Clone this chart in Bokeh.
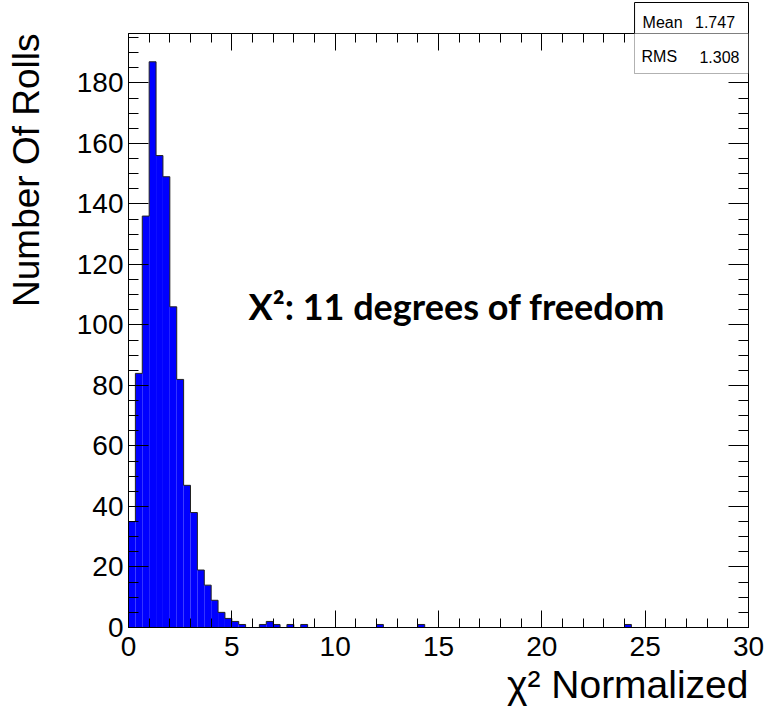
from bokeh.plotting import figure
from bokeh.models import Range1d, LinearAxis, SingleIntervalTicker, Label, BoxAnnotation, Title
from bokeh.embed import file_html
from bokeh.resources import INLINE

# ---- data ----
x_start = 0.0
x_end = 30.0
bin_width = 1.0 / 3.0
counts = [35, 84, 136, 187, 156, 149, 106, 82, 47, 38,
          19, 14, 9, 5, 3, 2, 1, 0, 0, 1,
          2, 1, 0, 1, 0, 1, 0, 0, 0, 0,
          0, 0, 0, 0, 0, 0, 1, 0, 0, 0,
          0, 0, 1, 0, 0, 0, 0, 0, 0, 0,
          0, 0, 0, 0, 0, 0, 0, 0, 0, 0,
          0, 0, 0, 0, 0, 0, 0, 0, 0, 0,
          0, 0, 1, 0, 0, 0, 0, 0, 0, 0,
          0, 0, 0, 0, 0, 0, 0, 0, 0, 0]
stats_names = ["Mean", "RMS"]
stats_values = ["1.747", "1.308"]
x_title = "\u03c7\u00b2 Normalized"
y_title = "Number Of Rolls"
note_text = "X\u00b2: 11 degrees of freedom"
x_major = 5
x_minor = 5
y_major = 20
y_minor = 4

edges = [x_start + i * bin_width for i in range(len(counts) + 1)]
y_max = 1.05 * max(counts)

W, H = 783, 712
L, R, T, B = 128, 35, 33, 85
frame_w = W - L - R
frame_h = H - T - B
px_x = (x_end - x_start) / frame_w
px_y = y_max / frame_h

p = figure(width=W, height=H, x_range=Range1d(x_start, x_end), y_range=Range1d(0, y_max),
           output_backend="svg", toolbar_location=None,
           min_border_left=L, min_border_right=R, min_border_top=T, min_border_bottom=B)
p.grid.visible = False
p.outline_line_color = None
p.background_fill_color = "white"
p.border_fill_color = "white"

# histogram fill
p.quad(left=edges[:-1], right=edges[1:], bottom=0, top=counts,
       fill_color="#0000ff", line_color=None)
# outline as ROOT step contour
sx, sy = [edges[0]], [0]
for i, c in enumerate(counts):
    sx += [edges[i], edges[i + 1]]
    sy += [c, c]
sx.append(edges[-1]); sy.append(0)
p.line(sx, sy, line_color="#222222", line_width=1)

font = "Liberation Sans"
def style_axis(ax, major, minor, tin, tmin, labels=True):
    ax.ticker = SingleIntervalTicker(interval=major, num_minor_ticks=minor)
    ax.major_tick_in = tin
    ax.major_tick_out = 0
    ax.minor_tick_in = tmin
    ax.minor_tick_out = 0
    ax.axis_line_color = "black"
    ax.major_tick_line_color = "black"
    ax.minor_tick_line_color = "black"
    ax.major_label_text_font = font
    ax.major_label_text_color = "black"
    if labels:
        ax.major_label_text_font_size = "28px"
    else:
        ax.major_label_text_font_size = "0px"
        ax.major_label_standoff = 0

xa = p.xaxis[0]
ya = p.yaxis[0]
style_axis(xa, x_major, x_minor, 17, 9)
style_axis(ya, y_major, y_minor, 20, 10)
xa.major_label_standoff = 9
ya.major_label_standoff = 5

top_ax = LinearAxis()
style_axis(top_ax, x_major, x_minor, 17, 9, labels=False)
p.add_layout(top_ax, "above")
right_ax = LinearAxis()
style_axis(right_ax, y_major, y_minor, 20, 10, labels=False)
p.add_layout(right_ax, "right")

# axis titles (ROOT style: right / top aligned)
p.add_layout(Title(text=x_title, align="right", text_font=font, text_font_size="39px",
                   text_font_style="normal", text_color="black", standoff=4), "below")
# small spacer between the y tick labels and the y title
p.add_layout(Title(text=" ", text_font_size="1px", standoff=24), "left")
p.add_layout(Title(text=y_title, align="right", vertical_align="bottom", text_font=font,
                   text_font_size="37px", text_font_style="normal", text_color="black",
                   standoff=0, offset=0), "left")

# stats box: upper row lives in the top border, lower part inside the frame
# padding order is (left, right, top, bottom)
stats_row0 = stats_names[0] + "\u2002  " + stats_values[0]
p.add_layout(Title(text=stats_row0, align="right", text_font=font, text_font_size="16px",
                   text_font_style="normal", text_color="black", standoff=0, offset=0,
                   background_fill_color="white", border_line_color="black", border_line_width=1,
                   padding=(8, 9, 11, 3)), "above")
p.add_layout(BoxAnnotation(left=x_end - 114 * px_x, right=x_end, top=2 * y_max,
                           bottom=y_max - 40 * px_y,
                           fill_color="white", fill_alpha=1.0, line_color="black", line_width=1))
yb = y_max - (56.2 - T) * px_y
p.add_layout(Label(x=x_end - 114 * px_x, y=yb, x_offset=7, text=stats_names[1], text_font=font,
                   text_font_size="16px", text_baseline="alphabetic", text_color="black"))
p.add_layout(Label(x=x_end, y=yb, x_offset=-9, text=stats_values[1], text_font=font,
                   text_font_size="16px", text_align="right", text_baseline="alphabetic",
                   text_color="black"))

# annotation
p.add_layout(Label(x=x_start + 120 * px_x, y=(627 - 305) * px_y,
                   text=note_text, text_font="Lato", text_font_style="bold",
                   text_font_size="36px", text_baseline="alphabetic", text_color="black"))

open("out.html", "w").write(file_html(p, INLINE))
